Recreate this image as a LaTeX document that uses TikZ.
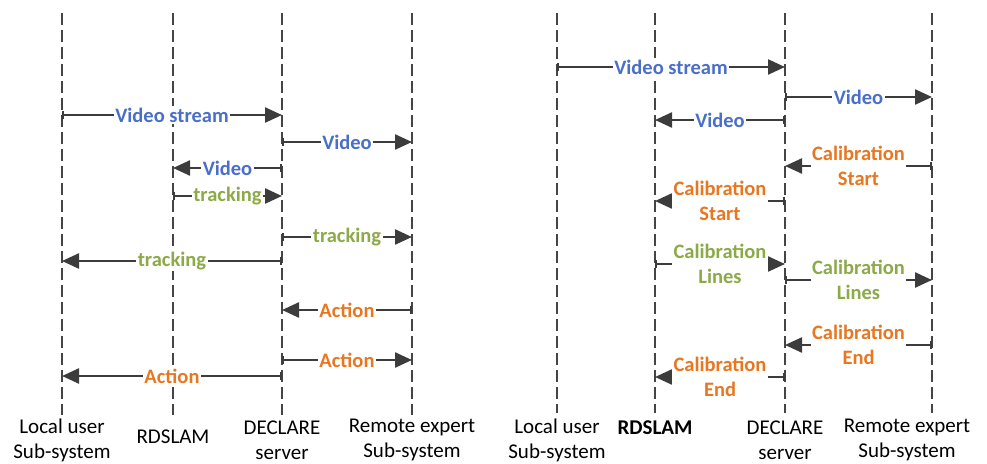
\documentclass[tikz,border=0pt]{standalone}
\usepackage{fontspec}
\setmainfont{Carlito}
\usepackage{tikz}
\usetikzlibrary{arrows.meta, positioning}

\definecolor{linegray}{HTML}{3C3C3C}
\definecolor{dashgray}{HTML}{454545}
\definecolor{vidblue}{HTML}{4A6FC8}
\definecolor{trkgreen}{HTML}{8CAA48}
\definecolor{actorange}{HTML}{E87722}

\tikzset{
    lifeline/.style={dashgray, line width=2.8pt, dash pattern=on 12pt off 5pt},
    msg/.style={linegray, line width=2.4pt,
        {Bar[width=8pt,line width=1.8pt]}-{Triangle[length=17pt,width=15pt]}},
    lbl/.style={fill=white, inner sep=1.5pt, text=#1, align=center,
        font=\fontsize{20.5}{25}\selectfont\bfseries},
    party/.style={inner sep=0pt, align=center, font=\fontsize{21}{25}\selectfont}
}

\begin{document}
\begin{tikzpicture}[x=1pt, y=-1pt]
    \useasboundingbox (0,0) rectangle (987,463);

    % LEFT: video and tracking flow
    \foreach \n/\x in {L-lu/62, L-rd/173, L-dc/282, L-re/412} {
        \coordinate (\n-top) at (\x, 13);
        \coordinate (\n-bot) at (\x, 415);
        \draw[lifeline] (\n-top) -- (\n-bot);
    }
    \node[party] (L-lu-name) at (62, 440) {Local user\\Sub-system};
    \node[party] (L-rd-name) at (173, 437) {RDSLAM};
    \node[party] (L-dc-name) at (282, 440) {DECLARE\\server};
    \node[party] (L-re-name) at (412, 440) {Remote expert\\Sub-system};

    \foreach \from/\to/\y/\txt/\col in {
        L-lu/L-dc/115/Video stream/vidblue,
        L-dc/L-re/142/Video/vidblue,
        L-dc/L-rd/168/Video/vidblue,
        L-rd/L-dc/196/tracking/trkgreen,
        L-dc/L-re/237/tracking/trkgreen,
        L-dc/L-lu/261/tracking/trkgreen,
        L-re/L-dc/310/Action/actorange,
        L-dc/L-re/360/Action/actorange,
        L-dc/L-lu/376/Action/actorange} {
        \draw[msg] (\from-top |- 0,\y) -- node[lbl=\col] {\txt} (\to-top |- 0,\y);
    }

    % RIGHT: calibration flow
    \foreach \n/\x in {R-lu/557, R-rd/655, R-dc/785, R-re/932} {
        \coordinate (\n-top) at (\x, 13);
        \coordinate (\n-bot) at (\x, 413);
        \draw[lifeline] (\n-top) -- (\n-bot);
    }
    \node[party] (R-lu-name) at (557, 440) {Local user\\Sub-system};
    \node[party, font=\fontsize{21}{25}\selectfont\bfseries] (R-rd-name) at (655, 428) {RDSLAM};
    \node[party] (R-dc-name) at (785, 440) {DECLARE\\server};
    \node[party] (R-re-name) at (907, 440) {Remote expert\\Sub-system};

    \foreach \from/\to/\y/\txt/\col in {
        R-lu/R-dc/67/Video stream/vidblue,
        R-dc/R-re/97/Video/vidblue,
        R-dc/R-rd/120/Video/vidblue,
        R-re/R-dc/166/Calibration\\Start/actorange,
        R-dc/R-rd/201/Calibration\\Start/actorange,
        R-rd/R-dc/264/Calibration\\Lines/trkgreen,
        R-dc/R-re/280/Calibration\\Lines/trkgreen,
        R-re/R-dc/345/Calibration\\End/actorange,
        R-dc/R-rd/377/Calibration\\End/actorange} {
        \draw[msg] (\from-top |- 0,\y) -- node[lbl=\col] {\txt} (\to-top |- 0,\y);
    }
\end{tikzpicture}
\end{document}
